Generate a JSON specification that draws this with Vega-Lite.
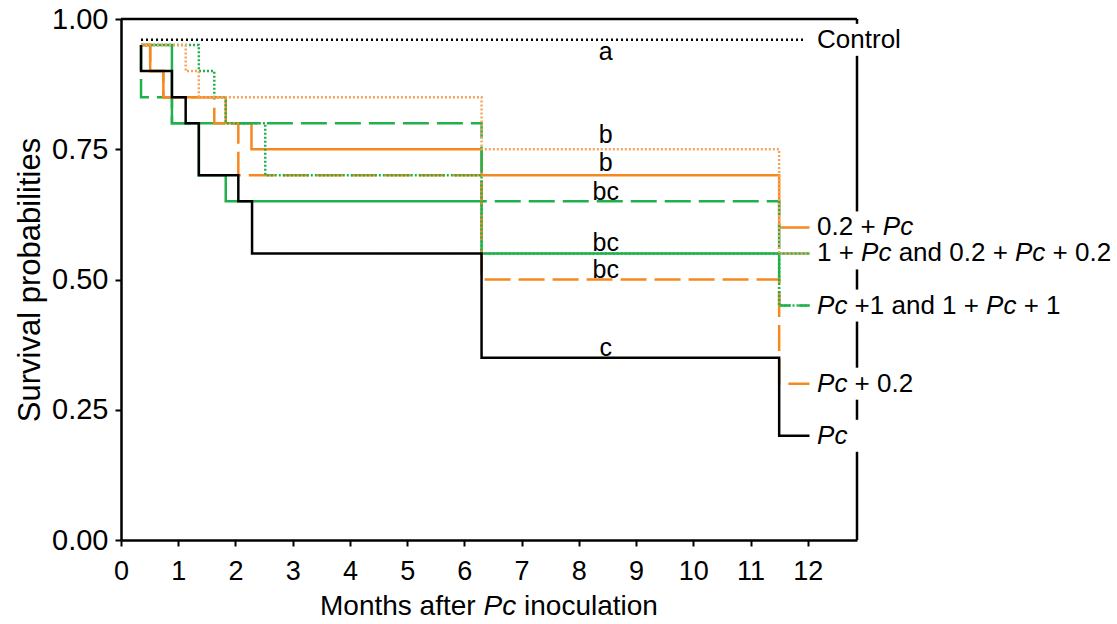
{
  "$schema": "https://vega.github.io/schema/vega-lite/v6.json",
  "width": 736,
  "height": 521,
  "autosize": "none",
  "padding": {"left": 121, "top": 19, "right": 260, "bottom": 84},
  "background": "white",
  "config": {"view": {"stroke": null}, "font": "Liberation Sans", "text": {"font": "Liberation Sans", "color": "black"}},
  "datasets": {
    "curves": [
      {"g": "0.2 + Pc", "k": 1, "t": 0.35, "s": 0.95},
      {"g": "0.2 + Pc", "k": 2, "t": 0.51, "s": 0.90},
      {"g": "0.2 + Pc", "k": 3, "t": 0.74, "s": 0.85},
      {"g": "0.2 + Pc", "k": 4, "t": 1.83, "s": 0.80},
      {"g": "0.2 + Pc", "k": 5, "t": 2.28, "s": 0.75},
      {"g": "0.2 + Pc", "k": 6, "t": 6.3, "s": 0.70},
      {"g": "0.2 + Pc", "k": 7, "t": 11.5, "s": 0.60},
      {"g": "0.2 + Pc", "k": 8, "t": 12.03, "s": 0.60},
      {"g": "1 + Pc", "k": 1, "t": 0.35, "s": 0.95},
      {"g": "1 + Pc", "k": 2, "t": 0.89, "s": 0.80},
      {"g": "1 + Pc", "k": 3, "t": 1.36, "s": 0.70},
      {"g": "1 + Pc", "k": 4, "t": 1.83, "s": 0.65},
      {"g": "1 + Pc", "k": 5, "t": 6.3, "s": 0.55},
      {"g": "1 + Pc", "k": 6, "t": 12.03, "s": 0.55},
      {"g": "Pc + 1", "k": 1, "t": 0.35, "s": 0.95},
      {"g": "Pc + 1", "k": 2, "t": 0.35, "s": 0.85},
      {"g": "Pc + 1", "k": 3, "t": 0.89, "s": 0.80},
      {"g": "Pc + 1", "k": 4, "t": 6.3, "s": 0.65},
      {"g": "Pc + 1", "k": 5, "t": 11.5, "s": 0.45},
      {"g": "Pc + 1", "k": 6, "t": 12.03, "s": 0.45},
      {"g": "Pc + 0.2", "k": 1, "t": 0.35, "s": 0.95},
      {"g": "Pc + 0.2", "k": 2, "t": 0.51, "s": 0.90},
      {"g": "Pc + 0.2", "k": 3, "t": 0.74, "s": 0.85},
      {"g": "Pc + 0.2", "k": 4, "t": 1.63, "s": 0.80},
      {"g": "Pc + 0.2", "k": 5, "t": 2.05, "s": 0.70},
      {"g": "Pc + 0.2", "k": 6, "t": 6.3, "s": 0.50},
      {"g": "Pc + 0.2", "k": 7, "t": 11.5, "s": 0.30},
      {"g": "Pc + 0.2", "k": 8, "t": 12.03, "s": 0.30},
      {"g": "1 + Pc + 1", "k": 1, "t": 0.35, "s": 0.95},
      {"g": "1 + Pc + 1", "k": 2, "t": 1.36, "s": 0.90},
      {"g": "1 + Pc + 1", "k": 3, "t": 1.63, "s": 0.85},
      {"g": "1 + Pc + 1", "k": 4, "t": 1.83, "s": 0.80},
      {"g": "1 + Pc + 1", "k": 5, "t": 2.52, "s": 0.70},
      {"g": "1 + Pc + 1", "k": 6, "t": 6.3, "s": 0.55},
      {"g": "1 + Pc + 1", "k": 7, "t": 11.5, "s": 0.45},
      {"g": "1 + Pc + 1", "k": 8, "t": 12.03, "s": 0.45},
      {"g": "0.2 + Pc + 0.2", "k": 1, "t": 0.35, "s": 0.95},
      {"g": "0.2 + Pc + 0.2", "k": 2, "t": 1.13, "s": 0.90},
      {"g": "0.2 + Pc + 0.2", "k": 3, "t": 1.36, "s": 0.85},
      {"g": "0.2 + Pc + 0.2", "k": 4, "t": 6.3, "s": 0.75},
      {"g": "0.2 + Pc + 0.2", "k": 5, "t": 11.5, "s": 0.55},
      {"g": "0.2 + Pc + 0.2", "k": 6, "t": 12.03, "s": 0.55},
      {"g": "Pc", "k": 1, "t": 0.35, "s": 0.95},
      {"g": "Pc", "k": 2, "t": 0.35, "s": 0.90},
      {"g": "Pc", "k": 3, "t": 0.89, "s": 0.85},
      {"g": "Pc", "k": 4, "t": 1.13, "s": 0.80},
      {"g": "Pc", "k": 5, "t": 1.36, "s": 0.70},
      {"g": "Pc", "k": 6, "t": 2.05, "s": 0.65},
      {"g": "Pc", "k": 7, "t": 2.29, "s": 0.55},
      {"g": "Pc", "k": 8, "t": 6.3, "s": 0.35},
      {"g": "Pc", "k": 9, "t": 11.5, "s": 0.20},
      {"g": "Pc", "k": 10, "t": 12.03, "s": 0.20},
      {"g": "Control", "k": 1, "t": 0.35, "s": 0.96},
      {"g": "Control", "k": 2, "t": 11.97, "s": 0.96}
    ],
    "letters": [
      {"t": 8.47, "s": 0.937, "txt": "a"},
      {"t": 8.47, "s": 0.777, "txt": "b"},
      {"t": 8.47, "s": 0.724, "txt": "b"},
      {"t": 8.47, "s": 0.668, "txt": "bc"},
      {"t": 8.47, "s": 0.570, "txt": "bc"},
      {"t": 8.47, "s": 0.518, "txt": "bc"},
      {"t": 8.47, "s": 0.3685, "txt": "c"}
    ],
    "gaps": [
      {"s": 0.96}, {"s": 0.60}, {"s": 0.55}, {"s": 0.45}, {"s": 0.30}, {"s": 0.20}
    ],
    "roman": [
      {"t": 12.162, "s": 0.96, "txt": "Control"},
      {"t": 12.162, "s": 0.60, "txt": "0.2 +"},
      {"t": 12.162, "s": 0.55, "txt": "1 +"},
      {"t": 13.588, "s": 0.55, "txt": "and 0.2 +"},
      {"t": 16.277, "s": 0.55, "txt": "+ 0.2"},
      {"t": 12.818, "s": 0.45, "txt": "+1 and 1 +"},
      {"t": 15.773, "s": 0.45, "txt": "+ 1"},
      {"t": 12.818, "s": 0.30, "txt": "+ 0.2"}
    ],
    "italic": [
      {"t": 13.311, "s": 0.60, "txt": "Pc"},
      {"t": 12.932, "s": 0.55, "txt": "Pc"},
      {"t": 15.621, "s": 0.55, "txt": "Pc"},
      {"t": 12.162, "s": 0.45, "txt": "Pc"},
      {"t": 15.116, "s": 0.45, "txt": "Pc"},
      {"t": 12.162, "s": 0.30, "txt": "Pc"},
      {"t": 12.162, "s": 0.20, "txt": "Pc"}
    ],
    "xtitle": [
      {"t": 3.477, "s": -0.1286, "txt": "Months after", "it": "n"},
      {"t": 6.334, "s": -0.1286, "txt": "Pc", "it": "y"},
      {"t": 7.042, "s": -0.1286, "txt": "inoculation", "it": "n"}
    ]
  },
  "layer": [
    {
      "data": {"name": "curves"},
      "mark": {"type": "line", "interpolate": "step-after", "strokeWidth": 2.5},
      "encoding": {
        "x": {"field": "t", "type": "quantitative",
              "scale": {"domain": [0, 12.86], "nice": false, "zero": false},
              "axis": {"title": null, "values": [0,1,2,3,4,5,6,7,8,9,10,11,12], "format": "d", "grid": false,
                       "labelFontSize": 27, "labelColor": "black", "labelFont": "Liberation Sans",
                       "tickSize": 6, "tickWidth": 2, "tickColor": "black",
                       "domainWidth": 2.5, "domainColor": "black", "labelPadding": 12, "labelFlush": false, "labelOverlap": false}},
        "y": {"field": "s", "type": "quantitative",
              "scale": {"domain": [0, 1], "nice": false, "zero": false},
              "axis": {"title": "Survival probabilities", "values": [0, 0.25, 0.5, 0.75, 1], "format": ".2f", "grid": false,
                       "labelFontSize": 29, "labelColor": "black", "labelFont": "Liberation Sans",
                       "tickSize": 6, "tickWidth": 2, "tickColor": "black",
                       "domainWidth": 2.5, "domainColor": "black", "labelPadding": 7, "labelFlush": false, "labelOverlap": false,
                       "titleFontSize": 31, "titleFont": "Liberation Sans", "titleFontWeight": "normal", "titleColor": "black", "titlePadding": 5}},
        "order": {"field": "k", "type": "quantitative"},
        "color": {"field": "g", "type": "nominal", "legend": null,
                  "scale": {"domain": ["0.2 + Pc", "1 + Pc", "Pc + 1", "Pc + 0.2", "1 + Pc + 1", "0.2 + Pc + 0.2", "Pc", "Control"],
                            "range": ["#F5891F", "#1FB14B", "#1FB14B", "#F5891F", "#1FB14B", "#F7A45E", "#000000", "#000000"]}},
        "strokeDash": {"field": "g", "type": "nominal", "legend": null,
                  "scale": {"domain": ["0.2 + Pc", "1 + Pc", "Pc + 1", "Pc + 0.2", "1 + Pc + 1", "0.2 + Pc + 0.2", "Pc", "Control"],
                            "range": [[1, 0], [1, 0], [26, 8], [26, 8], [2, 2], [2, 2], [1, 0], [2, 3]]}}
      }
    },
    {
      "data": {"values": [{}]},
      "mark": {"type": "rule", "strokeWidth": 2.5, "color": "black"},
      "encoding": {"x": {"datum": 0, "type": "quantitative"}, "x2": {"datum": 12.86}, "y": {"datum": 1, "type": "quantitative"}}
    },
    {
      "data": {"values": [{}]},
      "mark": {"type": "rule", "strokeWidth": 2.5, "color": "black"},
      "encoding": {"x": {"datum": 12.86, "type": "quantitative"}, "y": {"datum": 0, "type": "quantitative"}, "y2": {"datum": 1}}
    },
    {
      "data": {"name": "gaps"},
      "mark": {"type": "rect", "color": "white", "width": 16, "height": 32},
      "encoding": {"x": {"datum": 12.86, "type": "quantitative"}, "y": {"field": "s", "type": "quantitative"}}
    },
    {
      "data": {"name": "letters"},
      "mark": {"type": "text", "fontSize": 25, "align": "center", "baseline": "middle"},
      "encoding": {"x": {"field": "t", "type": "quantitative"}, "y": {"field": "s", "type": "quantitative"}, "text": {"field": "txt"}}
    },
    {
      "data": {"name": "roman"},
      "mark": {"type": "text", "fontSize": 26, "align": "left", "baseline": "middle"},
      "encoding": {"x": {"field": "t", "type": "quantitative"}, "y": {"field": "s", "type": "quantitative"}, "text": {"field": "txt"}}
    },
    {
      "data": {"name": "italic"},
      "mark": {"type": "text", "fontSize": 26, "fontStyle": "italic", "align": "left", "baseline": "middle"},
      "encoding": {"x": {"field": "t", "type": "quantitative"}, "y": {"field": "s", "type": "quantitative"}, "text": {"field": "txt"}}
    },
    {
      "data": {"name": "xtitle"},
      "transform": [{"filter": "datum.it == 'n'"}],
      "mark": {"type": "text", "fontSize": 28, "align": "left", "baseline": "middle"},
      "encoding": {"x": {"field": "t", "type": "quantitative"}, "y": {"field": "s", "type": "quantitative"}, "text": {"field": "txt"}}
    },
    {
      "data": {"name": "xtitle"},
      "transform": [{"filter": "datum.it == 'y'"}],
      "mark": {"type": "text", "fontSize": 28, "fontStyle": "italic", "align": "left", "baseline": "middle"},
      "encoding": {"x": {"field": "t", "type": "quantitative"}, "y": {"field": "s", "type": "quantitative"}, "text": {"field": "txt"}}
    }
  ]
}
